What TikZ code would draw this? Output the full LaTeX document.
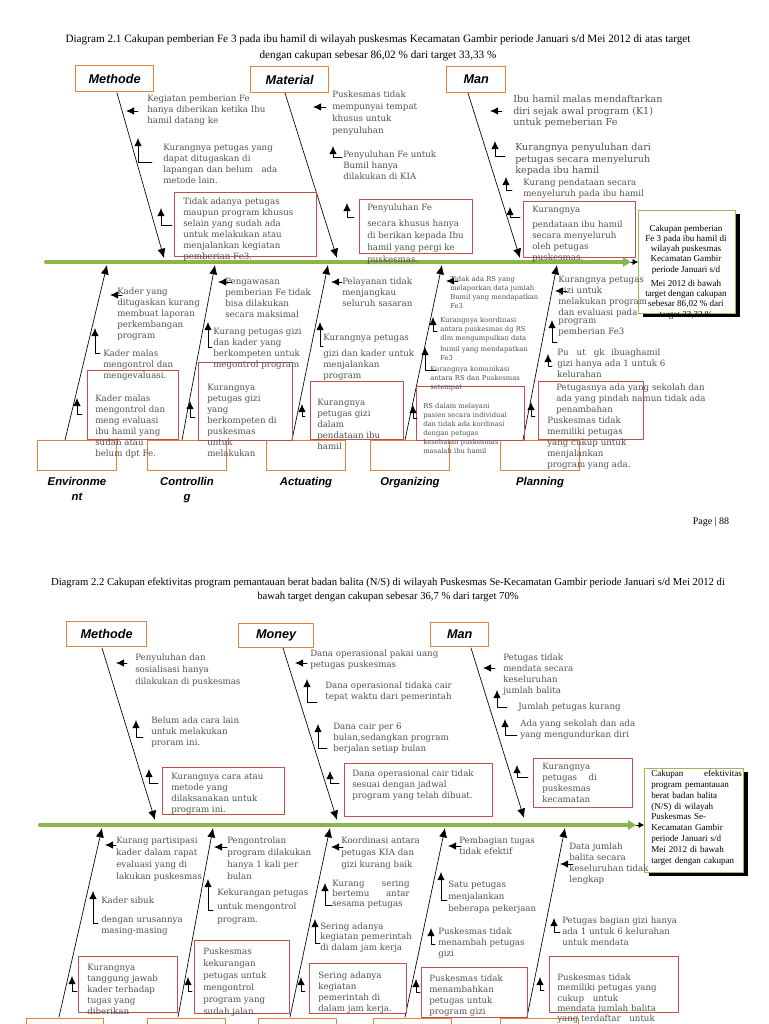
\documentclass[tikz,border=0pt]{standalone}
\usepackage{fontspec}
\setmainfont{Liberation Serif}
\newfontfamily\causefam{DejaVu Serif}
\newfontfamily\catfam{Liberation Sans}
\usetikzlibrary{arrows.meta,positioning,shadows}
\definecolor{catorange}{RGB}{228,130,60}
\definecolor{boxred}{RGB}{192,80,77}
\definecolor{spinegreen}{RGB}{140,180,75}
\definecolor{effgreen}{RGB}{155,187,89}
\definecolor{txtgray}{RGB}{80,80,80}
\newcommand\cfont{\causefam\fontsize{6.5}{8.2}\selectfont}
\newcommand\cfontw{\causefam\fontsize{6.5}{9}\selectfont}
\newcommand\cfontb{\causefam\fontsize{7.2}{8.6}\selectfont}
\newcommand\cfonts{\causefam\fontsize{5.1}{6.8}\selectfont}
\newcommand\efont{\fontsize{6.8}{7.7}\selectfont}
\tikzset{
	catbox/.style={draw=catorange, line width=1pt, inner sep=0pt, anchor=north west, minimum height=19.5pt, font=\catfam\bfseries\itshape\fontsize{9.5}{10}\selectfont},
	catlabel/.style={inner sep=0pt, align=center, font=\catfam\bfseries\itshape\fontsize{8.5}{11}\selectfont},
	cause/.style={anchor=north west, inner sep=0pt, align=left, text=txtgray, font=\cfont},
	redbox/.style={draw=boxred, line width=0.6pt},
	bone/.style={line width=0.5pt, -{Latex[length=7pt,width=6pt]}},
	sub/.style={line width=0.6pt, -{Latex[length=6pt,width=5.5pt]}},
	spine/.style={draw=spinegreen, line width=3pt},
	effbox/.style={draw=effgreen, line width=0.8pt, fill=white, anchor=north west, inner sep=0pt, drop shadow={shadow xshift=3.5pt, shadow yshift=-2.5pt, fill=black, opacity=1}},
}
\begin{document}
\begin{tikzpicture}[x=0.75pt,y=-0.75pt,line join=round,line cap=round]
	\useasboundingbox (0,0) rectangle (768,1024);
	% Diagram 2.1
	\node[font=\fontsize{8.4}{12}\selectfont,align=center] (T1) at (378,48) {Diagram 2.1 Cakupan pemberian Fe 3 pada ibu hamil di wilayah puskesmas Kecamatan Gambir periode Januari s/d Mei 2012 di atas target\\dengan cakupan sebesar 86,02 \% dari target 33,33 \%};
	\node[catbox,minimum width=58.5pt] (Me1) at (75,65) {Methode};
	\node[catbox,minimum width=58.5pt] (Ma1) at (250,66) {Material};
	\node[catbox,minimum width=44.25pt] (Mn1) at (446,66) {Man};
	\node[catbox,minimum width=59pt,minimum height=22.5pt] (En1) at (37,440) {};
	\node[catbox,minimum width=59pt,minimum height=22.5pt] (Ct1) at (147,440) {};
	\node[catbox,minimum width=59pt,minimum height=22.5pt] (Ac1) at (266,440) {};
	\node[catbox,minimum width=59pt,minimum height=22.5pt] (Or1) at (370,440) {};
	\node[catbox,minimum width=59pt,minimum height=22.5pt] (Pl1) at (500,440) {};
	\node[catlabel,below=4.5pt of En1] (EnL1) {Environme\\nt};
	\node[catlabel,below=4.5pt of Ct1] (CtL1) {Controllin\\g};
	\node[catlabel,below=4.5pt of Ac1] (AcL1) {Actuating};
	\node[catlabel,below=4.5pt of Or1] (OrL1) {Organizing};
	\node[catlabel,below=4.5pt of Pl1] (PlL1) {Planning};
	\coordinate (S1a) at (46,262);
	\coordinate (S1b) at (631,262);
	\node[effbox,minimum width=72.75pt,minimum height=77.25pt] (E1) at (638,210) {};
	\draw[spine,-{Triangle[length=6pt,width=7pt]}] (S1a) -- (S1b);
	\draw[-{Latex[length=4pt,width=4.5pt]}] (S1b) -- (S1b -| E1.west);
	\node[font=\efont,align=center,anchor=north] (E1t) at (686,220) {Cakupan pemberian\\Fe 3 pada ibu hamil di\\wilayah puskesmas\\Kecamatan Gambir\\periode Januari s/d\\[3pt]Mei 2012 di bawah\\target dengan cakupan\\sebesar 86,02 \% dari\\target 33,33 \%};
	\coordinate (b1)at(117,93); \coordinate (b1e)at(164,258);
	\coordinate (b2)at(285,93); \coordinate (b2e)at(337,258);
	\coordinate (b3)at(468,93); \coordinate (b3e)at(520,258);
	\coordinate (b4)at(65,440); \coordinate (b4e)at(107,265);
	\coordinate (b5)at(182,440); \coordinate (b5e)at(215,265);
	\coordinate (b6)at(292,440); \coordinate (b6e)at(328,265);
	\coordinate (b7)at(405,440); \coordinate (b7e)at(442,265);
	\coordinate (b8)at(523,440); \coordinate (b8e)at(557,265);
	\foreach \i in {1,...,8} \draw[bone] (b\i)--(b\i e);
	\draw[redbox] (174,192) rectangle (316,256) (359,199) rectangle (472,253) (523,201) rectangle (635,257);
	\draw[redbox] (87,370) rectangle (178,439) (198,362) rectangle (292,440) (310,381) rectangle (403,439) (416,386) rectangle (524,440) (538,381) rectangle (643,439);
	\node[cause] (A1) at (147,95) {Kegiatan pemberian Fe\\hanya diberikan ketika Ibu\\hamil datang ke};
	\node[cause] (A2) at (163,144) {Kurangnya petugas yang\\dapat ditugaskan di\\lapangan dan belum\quad ada\\metode lain.};
	\node[cause] (A3) at (183,198) {Tidak adanya petugas\\maupun program khusus\\selain yang sudah ada\\untuk melakukan atau\\menjalankan kegiatan\\pemberian Fe3.};
	\node[cause,font=\cfontw] (B1) at (332,91) {Puskesmas tidak\\mempunyai tempat\\khusus untuk\\penyuluhan};
	\node[cause] (B2) at (343,151) {Penyuluhan Fe untuk\\Bumil hanya\\dilakukan di KIA};
	\node[cause] (B3) at (367,204) {Penyuluhan Fe};
	\node[cause,font=\cfontw] (B4) at (367,220) {secara khusus hanya\\di berikan kepada Ibu\\hamil yang pergi ke\\puskesmas.};
	\node[cause,font=\cfontb] (C1) at (513,95) {Ibu hamil malas mendaftarkan\\diri sejak awal program (K1)\\untuk pemeberian Fe};
	\node[cause,font=\cfontb] (C2) at (515,143) {Kurangnya penyuluhan dari\\petugas secara menyeluruh\\kepada ibu hamil};
	\node[cause] (C3) at (523,179) {Kurang pendataan secara\\menyeluruh pada ibu hamil};
	\node[cause] (C4) at (532,206) {Kurangnya\\[3pt]pendataan ibu hamil\\secara menyeluruh\\oleh petugas\\puskesmas.};
	\node[cause] (D1) at (117,288) {Kader yang\\ditugaskan kurang\\membuat laporan\\perkembangan\\program};
	\node[cause] (D2) at (103,350) {Kader malas\\mengontrol dan\\mengevaluasi.};
	\node[cause] (D3) at (95,395) {Kader malas\\mengontrol dan\\meng evaluasi\\ibu hamil yang\\sudah atau\\belum dpt Fe.};
	\node[cause] (F1) at (225,278) {Pengawasan\\pemberian Fe tidak\\bisa dilakukan\\secara maksimal};
	\node[cause] (F2) at (213,328) {Kurang petugas gizi\\dan kader yang\\berkompeten untuk\\megontrol program};
	\node[cause] (F3) at (207,384) {Kurangnya\\petugas gizi\\yang\\berkompeten di\\puskesmas\\untuk\\melakukan};
	\node[cause] (G1) at (342,278) {Pelayanan tidak\\menjangkau\\seluruh sasaran};
	\node[cause] (G2) at (323,334) {Kurangnya petugas\\[4pt]gizi dan kader untuk\\menjalankan\\program};
	\node[cause] (G3) at (317,399) {Kurangnya\\petugas gizi\\dalam\\pendataan ibu\\hamil};
	\node[cause,font=\cfonts] (H1) at (450,276) {Tidak ada RS yang\\melaporkan data jumlah\\Bumil yang mendapatkan\\Fe3};
	\node[cause,font=\cfonts] (H2) at (440,317) {Kurangnya koordinasi\\antara puskesmas dg RS\\dlm mengumpulkan data\\[1.5pt]bumil yang mendapatkan\\Fe3};
	\node[cause,font=\cfonts] (H3) at (430,366) {Kurangnya komunikasi\\antara RS dan Puskesmas\\setempat};
	\node[cause,font=\cfonts] (H4) at (423,403) {RS dalam melayani\\pasien secara individual\\dan tidak ada kordinasi\\dengan petugas\\kesehatan puskesmas\\masalah ibu hamil};
	\node[cause] (K1) at (558,276) {Kurangnya petugas\\gizi untuk\\melakukan program\\dan evaluasi pada};
	\node[cause] (K2) at (558,319) {program\\pemberian Fe3};
	\node[cause] (K3) at (557,349) {Pu\hspace{6pt}ut\hspace{6pt}gk\hspace{5pt}ibuaghamil\\gizi hanya ada 1 untuk 6\\kelurahan};
	\node[cause] (K4) at (556,384) {Petugasnya ada yang sekolah dan\\ada yang pindah namun tidak ada\\penambahan};
	\node[cause] (K5) at (547,417) {Puskesmas tidak\\memiliki petugas\\yang cukup untuk\\menjalankan\\program yang ada.};
	\foreach \x/\u/\y in {138/126/111, 326/313/107, 502/490/111, 122/110/295, 232/218/282, 342/331/282, 458/446/281, 567/555/291}
		\draw[sub] (\x,\y)--(\u,\y);
	\foreach \x/\y/\u/\v in {152/162/138/138, 172/225/161/208, 342/157/333/146, 354/217/347/203, 505/156/495/141, 512/190/506/177, 520/217/510/207, 100/353/95/328, 82/414/77/398, 212/347/208/322, 195/417/190/401, 323/346/320/322, 305/416/302/404, 437/331/433/317, 436/370/425/347, 417/418/413/405, 557/342/552/320, 552/366/548/354, 535/416/531/402}
		\draw[sub] (\x,\y)-|(\u,\v);
	\node[font=\fontsize{7.5}{9}\selectfont] (Pg) at (711,522) {Page | 88};
	% Diagram 2.2
	\node[font=\fontsize{8}{10.5}\selectfont,align=center] (T2) at (388,590) {Diagram 2.2 Cakupan efektivitas program pemantauan berat badan balita (N/S) di wilayah Puskesmas Se-Kecamatan Gambir periode Januari s/d Mei 2012 di\\bawah target dengan cakupan sebesar 36,7 \% dari target 70\%};
	\node[catbox,minimum width=60pt,minimum height=18.75pt] (Me2) at (66,621) {Methode};
	\node[catbox,minimum width=56.25pt,minimum height=18pt] (Mo2) at (238,623) {Money};
	\node[catbox,minimum width=43.5pt,minimum height=18pt] (Mn2) at (430,622) {Man};
	\node[catbox,minimum width=57.75pt,minimum height=22.5pt] (En2) at (26,1018) {};
	\node[catbox,minimum width=58.5pt,minimum height=22.5pt] (Ct2) at (147,1018) {};
	\node[catbox,minimum width=58.5pt,minimum height=22.5pt] (Ac2) at (258,1018) {};
	\node[catbox,minimum width=58.5pt,minimum height=22.5pt] (Or2) at (373,1018) {};
	\node[catbox,minimum width=58.5pt,minimum height=22.5pt] (Pl2) at (500,1018) {};
	\coordinate (S2a) at (40,825);
	\coordinate (S2b) at (636,825);
	\node[effbox,minimum width=74.25pt,minimum height=78pt] (E2) at (644,768) {};
	\draw[spine,-{Triangle[length=6pt,width=7pt]}] (S2a) -- (S2b);
	\draw[-{Latex[length=4pt,width=4.5pt]}] (S2b) -- (S2b -| E2.west);
	\node[font=\fontsize{6.8}{8.1}\selectfont,align=left,anchor=north west,inner sep=0pt,text width=68pt] (E2t) at (651,770) {Cakupan\hfill efektivitas\\program pemantauan\\berat badan balita\\(N/S) di wilayah\\Puskesmas Se-\\Kecamatan Gambir\\periode Januari s/d\\Mei 2012 di bawah\\target dengan cakupan};
	\coordinate (c1)at(102,648); \coordinate (c1e)at(155,820);
	\coordinate (c2)at(283,648); \coordinate (c2e)at(337,820);
	\coordinate (c3)at(471,648); \coordinate (c3e)at(524,818);
	\coordinate (c4)at(59,1017); \coordinate (c4e)at(102,828);
	\coordinate (c5)at(178,1017); \coordinate (c5e)at(213,828);
	\coordinate (c6)at(290,1017); \coordinate (c6e)at(330,828);
	\coordinate (c7)at(405,1017); \coordinate (c7e)at(445,828);
	\coordinate (c8)at(527,1017); \coordinate (c8e)at(565,828);
	\foreach \i in {1,...,8} \draw[bone] (c\i)--(c\i e);
	\draw[redbox] (162,767) rectangle (284,814) (344,763) rectangle (492,816) (533,758) rectangle (632,807);
	\draw[redbox] (78,956) rectangle (177,1012) (194,940) rectangle (289,1013) (309,963) rectangle (406,1013) (421,967) rectangle (527,1017) (549,956) rectangle (678,1012);
	\node[cause,font=\cfontw] (I1) at (135,654) {Penyuluhan dan\\sosialisasi hanya\\dilakukan di puskesmas};
	\node[cause] (I2) at (151,717) {Belum ada cara lain\\untuk melakukan\\proram ini.};
	\node[cause] (I3) at (171,773) {Kurangnya cara atau\\metode yang\\dilaksanakan untuk\\program ini.};
	\node[cause] (J1) at (310,650) {Dana operasional pakai uang\\petugas puskesmas};
	\node[cause] (J2) at (325,682) {Dana operasional tidaka cair\\tepat waktu dari pemerintah};
	\node[cause] (J3) at (333,723) {Dana cair per 6\\bulan,sedangkan program\\berjalan setiap bulan};
	\node[cause] (J4) at (352,770) {Dana operasional cair tidak\\sesuai dengan jadwal\\program yang telah dibuat.};
	\node[cause] (L1) at (503,654) {Petugas tidak\\mendata secara\\keseluruhan\\jumlah balita};
	\node[cause] (L2) at (518,703) {Jumlah petugas kurang};
	\node[cause] (L3) at (520,720) {Ada yang sekolah dan ada\\yang mengundurkan diri};
	\node[cause] (L4) at (542,763) {Kurangnya\\petugas\quad\ di\\puskesmas\\kecamatan};
	\node[cause,font=\cfontw] (N1) at (116,837) {Kurang partisipasi\\kader dalam rapat\\evaluasi yang di\\lakukan puskesmas};
	\node[cause] (N2) at (101,897) {Kader sibuk};
	\node[cause] (N3) at (101,916) {dengan urusannya\\masing-masing};
	\node[cause] (N4) at (87,964) {Kurangnya\\tanggung jawab\\kader terhadap\\tugas yang\\diberikan};
	\node[cause,font=\cfontw] (O1) at (227,837) {Pengontrolan\\program dilakukan\\hanya 1 kali per\\bulan};
	\node[cause,font=\causefam\fontsize{6.5}{10}\selectfont] (O2) at (217,889) {Kekurangan petugas\\untuk mengontrol\\program.};
	\node[cause,font=\cfontw] (O3) at (203,948) {Puskesmas\\kekurangan\\petugas untuk\\mengontrol\\program yang\\sudah jalan.};
	\node[cause,font=\cfontw] (P1) at (341,837) {Koordinasi antara\\petugas KIA dan\\gizi kurang baik};
	\node[cause,font=\causefam\fontsize{6.5}{7.6}\selectfont,text width=58pt] (P2) at (332,880) {Kurang\hfill sering\\bertemu\hfill antar\\sesama petugas};
	\node[cause,font=\causefam\fontsize{6.5}{7.6}\selectfont] (P3) at (320,923) {Sering adanya\\kegiatan pemerintah\\di dalam jam kerja};
	\node[cause] (P4) at (318,972) {Sering adanya\\kegiatan\\pemerintah di\\dalam jam kerja.};
	\node[cause] (Q1) at (459,837) {Pembagian tugas\\tidak efektif};
	\node[cause,font=\cfontw] (Q2) at (448,881) {Satu petugas\\menjalankan\\beberapa pekerjaan};
	\node[cause] (Q3) at (438,928) {Puskesmas tidak\\menambah petugas\\gizi};
	\node[cause] (Q4) at (429,975) {Puskesmas tidak\\menambahkan\\petugas untuk\\program gizi};
	\node[cause] (R1) at (569,843) {Data jumlah\\balita secara\\keseluruhan tidak\\lengkap};
	\node[cause] (R2) at (562,917) {Petugas bagian gizi hanya\\ada 1 untuk 6 kelurahan\\untuk mendata};
	\node[cause,font=\causefam\fontsize{6.5}{7.6}\selectfont] (R3) at (557,974) {Puskesmas tidak\\memiliki petugas yang\\cukup\quad untuk\\mendata jumlah balita\\yang terdaftar\quad untuk};
	\foreach \x/\u/\y in {127/116/663, 307/295/663, 495/483/668, 116/105/845, 227/214/847, 343/331/847, 461/448/846, 573/560/864}
		\draw[sub] (\x,\y)--(\u,\y);
	\foreach \x/\y/\u/\v in {143/737/136/720, 158/783/149/769, 317/702/307/679, 327/748/318/724, 339/783/330/771, 507/707/497/690, 517/735/505/719, 528/777/517/765, 98/923/93/891, 77/991/72/976, 213/910/208/879, 192/991/188/977, 332/905/325/883, 320/943/315/919, 305/991/301/977, 447/900/441/872, 435/944/431/928, 420/992/416/979, 560/932/554/918, 544/990/540/977}
		\draw[sub] (\x,\y)-|(\u,\v);
\end{tikzpicture}
\end{document}
